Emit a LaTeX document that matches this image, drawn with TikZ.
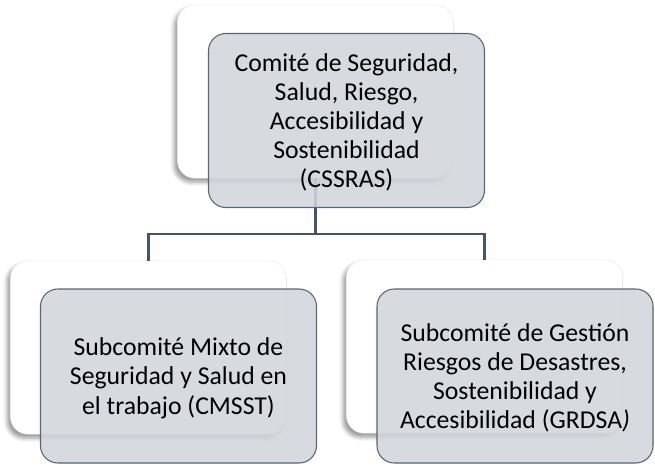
\documentclass[tikz,border=0pt]{standalone}
\usepackage{fontspec}
\setmainfont{Carlito}
\usetikzlibrary{positioning,calc,shadows.blur}

\definecolor{slate}{RGB}{68,84,106}
\definecolor{boxgray}{RGB}{210,213,219}

\begin{document}
\begin{tikzpicture}[x=0.75pt,y=-0.75pt,
    backbox/.style={draw=black!8, fill=white, rounded corners=13pt,
      minimum width=207pt, minimum height=130pt, inner sep=0pt,
      blur shadow={shadow xshift=-2.5pt, shadow yshift=-3pt,
        shadow blur radius=3pt, shadow opacity=40}},
    frontbox/.style={draw=slate!90, line width=0.8pt, fill=boxgray, fill opacity=0.88,
      text opacity=1, rounded corners=13pt, align=center, text depth=0pt,
      minimum width=207pt, minimum height=130.5pt, inner sep=0pt,
      font=\fontsize{19.3}{21.9}\selectfont},
    link/.style={draw=slate, line width=2pt}]
  \useasboundingbox (0,0) rectangle (655,465);
  %back boxes
  \node[backbox] (topback) at (315.5,91.5) {};
  \node[backbox] (leftback) at (148.5,347.5) {};
  \node[backbox] (rightback) at (484.5,346.5) {};
  %connectors
  \coordinate (bus) at (315.5,234);
  \draw[link] (topback.south) -- (bus);
  \draw[link] (bus) -| (leftback.north);
  \draw[link] (bus) -| (rightback.north);
  %front boxes
  \node[frontbox] (top) at (346.5,120.5)
    {Comité de Seguridad,\\Salud, Riesgo,\\Accesibilidad y\\Sostenibilidad\\(CSSRAS)};
  \node[frontbox] (left) at (178.5,376)
    {Subcomité Mixto de\\Seguridad y Salud en\\el trabajo (CMSST)};
  \node[frontbox] (right) at (515,376)
    {Subcomité de Gestión\\Riesgos de Desastres,\\Sostenibilidad y\\Accesibilidad (GRDSA\textit{)}};
\end{tikzpicture}
\end{document}
